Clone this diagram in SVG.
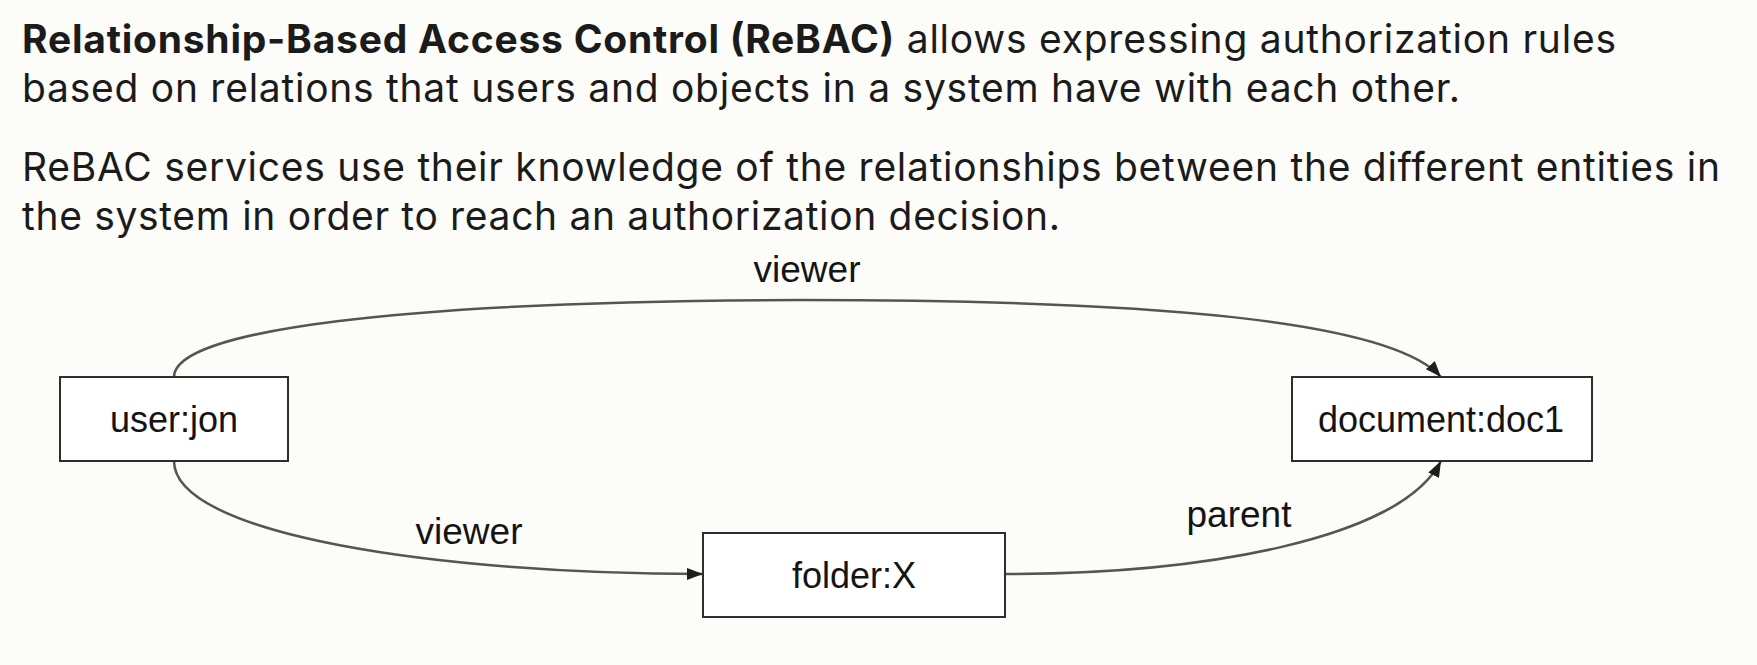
<svg xmlns="http://www.w3.org/2000/svg" width="1757" height="665" viewBox="0 0 1757 665">
  <style>
    .para { font-family: Inter, "Noto Sans", sans-serif; font-size: 39px; fill: #1b1b1b; }
    .bold { font-weight: 700; }
    .box { fill: #ffffff; stroke: #2e2e2e; stroke-width: 2; }
    .boxtext { font-family: "Liberation Sans", Arial, sans-serif; font-size: 36px; fill: #141414; text-anchor: middle; }
    .label { font-family: "Liberation Sans", Arial, sans-serif; font-size: 37px; fill: #141414; text-anchor: middle; }
    .edge { fill: none; stroke: #555555; stroke-width: 2.5; }
  </style>
  <defs>
    <marker id="arrow" viewBox="0 0 16 12" refX="16" refY="6" markerWidth="16" markerHeight="12" markerUnits="userSpaceOnUse" orient="auto">
      <path d="M0,0 L16,6 L0,12 Z" fill="#1e1e1e"/>
    </marker>
  </defs>
  <rect x="0" y="0" width="1757" height="665" fill="#fcfcf8"/>

  <g id="intro">
    <text class="para" x="22" y="53" textLength="1594" lengthAdjust="spacing"><tspan class="bold">Relationship-Based Access Control (ReBAC)</tspan> allows expressing authorization rules</text>
    <text class="para" x="22" y="102" textLength="1438" lengthAdjust="spacing">based on relations that users and objects in a system have with each other.</text>
    <text class="para" x="22" y="181" textLength="1698" lengthAdjust="spacing">ReBAC services use their knowledge of the relationships between the different entities in</text>
    <text class="para" x="22" y="230" textLength="1038" lengthAdjust="spacing">the system in order to reach an authorization decision.</text>
  </g>

  <g id="connectors">
    <path class="edge" d="M174,377 C174,330 400,301 800,300 C1150,300 1390,320 1441,377" marker-end="url(#arrow)"/>
    <path class="edge" d="M174,461 C174,535 440,574 703,574" marker-end="url(#arrow)"/>
    <path class="edge" d="M1005,574 C1200,574 1400,540 1441,461" marker-end="url(#arrow)"/>
    <text class="label" x="807" y="282">viewer</text>
    <text class="label" x="469" y="544">viewer</text>
    <text class="label" x="1239" y="527">parent</text>
  </g>

  <g id="node-user-jon">
    <rect class="box" x="60" y="377" width="228" height="84"/>
    <text class="boxtext" x="174" y="432">user:jon</text>
  </g>
  <g id="node-document-doc1">
    <rect class="box" x="1292" y="377" width="300" height="84"/>
    <text class="boxtext" x="1441" y="432">document:doc1</text>
  </g>
  <g id="node-folder-x">
    <rect class="box" x="703" y="533" width="302" height="84"/>
    <text class="boxtext" x="854" y="588">folder:X</text>
  </g>
</svg>
